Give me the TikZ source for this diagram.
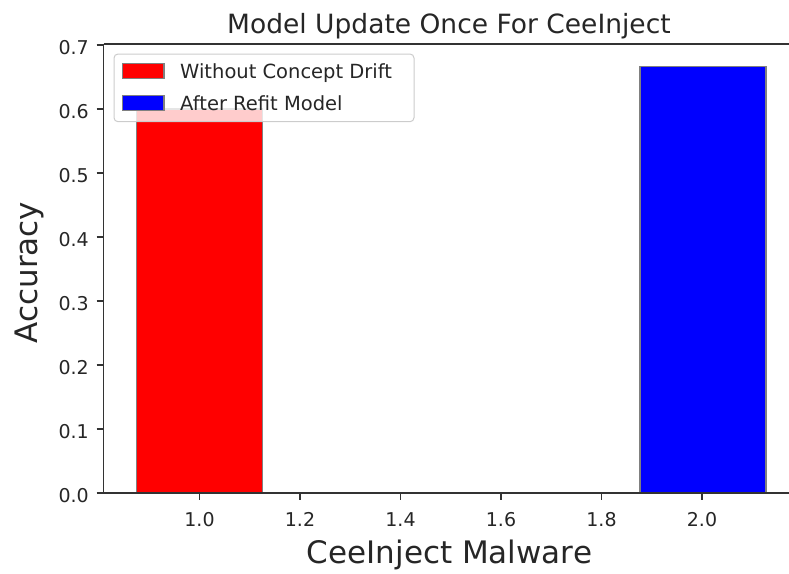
\documentclass[tikz,border=0pt]{standalone}
\usepackage{fontspec}
\setmainfont{DejaVu Sans}
\definecolor{txt}{HTML}{262626}
\definecolor{spine}{HTML}{333333}
\definecolor{baredge}{HTML}{808080}
\definecolor{legedge}{HTML}{CCCCCC}
\tikzset{
  ticklbl/.style={text=txt, inner sep=0pt, font=\fontsize{19}{19}\selectfont},
  leglbl/.style={text=txt, inner sep=0pt, anchor=base west, font=\fontsize{19.5}{19.5}\selectfont},
  axlbl/.style={text=txt, inner sep=0pt, font=\fontsize{31}{31}\selectfont},
  ttl/.style={text=txt, inner sep=0pt, font=\fontsize{26.5}{26.5}\selectfont},
  spineline/.style={draw=spine, line width=1.4pt},
  tickmark/.style={draw=spine, line width=1.2pt},
  bar/.style={draw=baredge, line width=1.2pt},
  legpatch/.style={draw=baredge, line width=1.2pt}
}
\begin{document}
\begin{tikzpicture}[x=1pt,y=-1pt]
  \useasboundingbox (0,0) rectangle (789,573);
  % data to page: x -> 199.5 + (v-1)*502.5, y -> 493 - v*640
  % bars
  \path[bar, fill=red]  (136.6,493) rectangle (262.4,109);
  \path[bar, fill=blue] (640,493) rectangle (766,66.3);
  % spines (right spine lies beyond the page edge)
  \draw[spineline] (103.5,44) -- (789,44);
  \draw[spineline] (103.5,44) -- (103.5,493) -- (789,493);
  % x ticks
  \foreach \v/\lab in {0/1.0,1/1.2,2/1.4,3/1.6,4/1.8,5/2.0}{
    \pgfmathsetmacro{\xx}{199.5+\v*100.5}
    \draw[tickmark] (\xx,493) -- (\xx,500);
    \node[ticklbl, anchor=base] (xt\v) at (\xx,526) {\lab};
  }
  % y ticks
  \foreach \v in {0,...,7}{
    \pgfmathsetmacro{\yy}{493-\v*64}
    \draw[tickmark] (96.5,\yy) -- (103.5,\yy);
    \node[ticklbl, anchor=base east] (yt\v) at (89,\yy+9.5) {0.\v};
  }
  % axis labels and title
  \node[ttl, anchor=base] (title) at (449,33.5) {Model Update Once For CeeInject};
  \node[axlbl, anchor=base] (xlabel) at (449.5,563.5) {CeeInject Malware};
  \node[axlbl, anchor=base, rotate=90] (ylabel) at (37.5,272.5) {Accuracy};
  % legend
  \path[draw=legedge, line width=1pt, fill=white, fill opacity=0.8, rounded corners=4pt]
    (114,54) rectangle (414,121.7);
  \path[legpatch, fill=red]  (122.7,63.5) rectangle (164,78.3);
  \path[legpatch, fill=blue] (122.7,95.8) rectangle (164,110.4);
  \node[leglbl] (leg1) at (180,78.3) {Without Concept Drift};
  \node[leglbl] (leg2) at (180,110.3) {After Refit Model};
\end{tikzpicture}
\end{document}
